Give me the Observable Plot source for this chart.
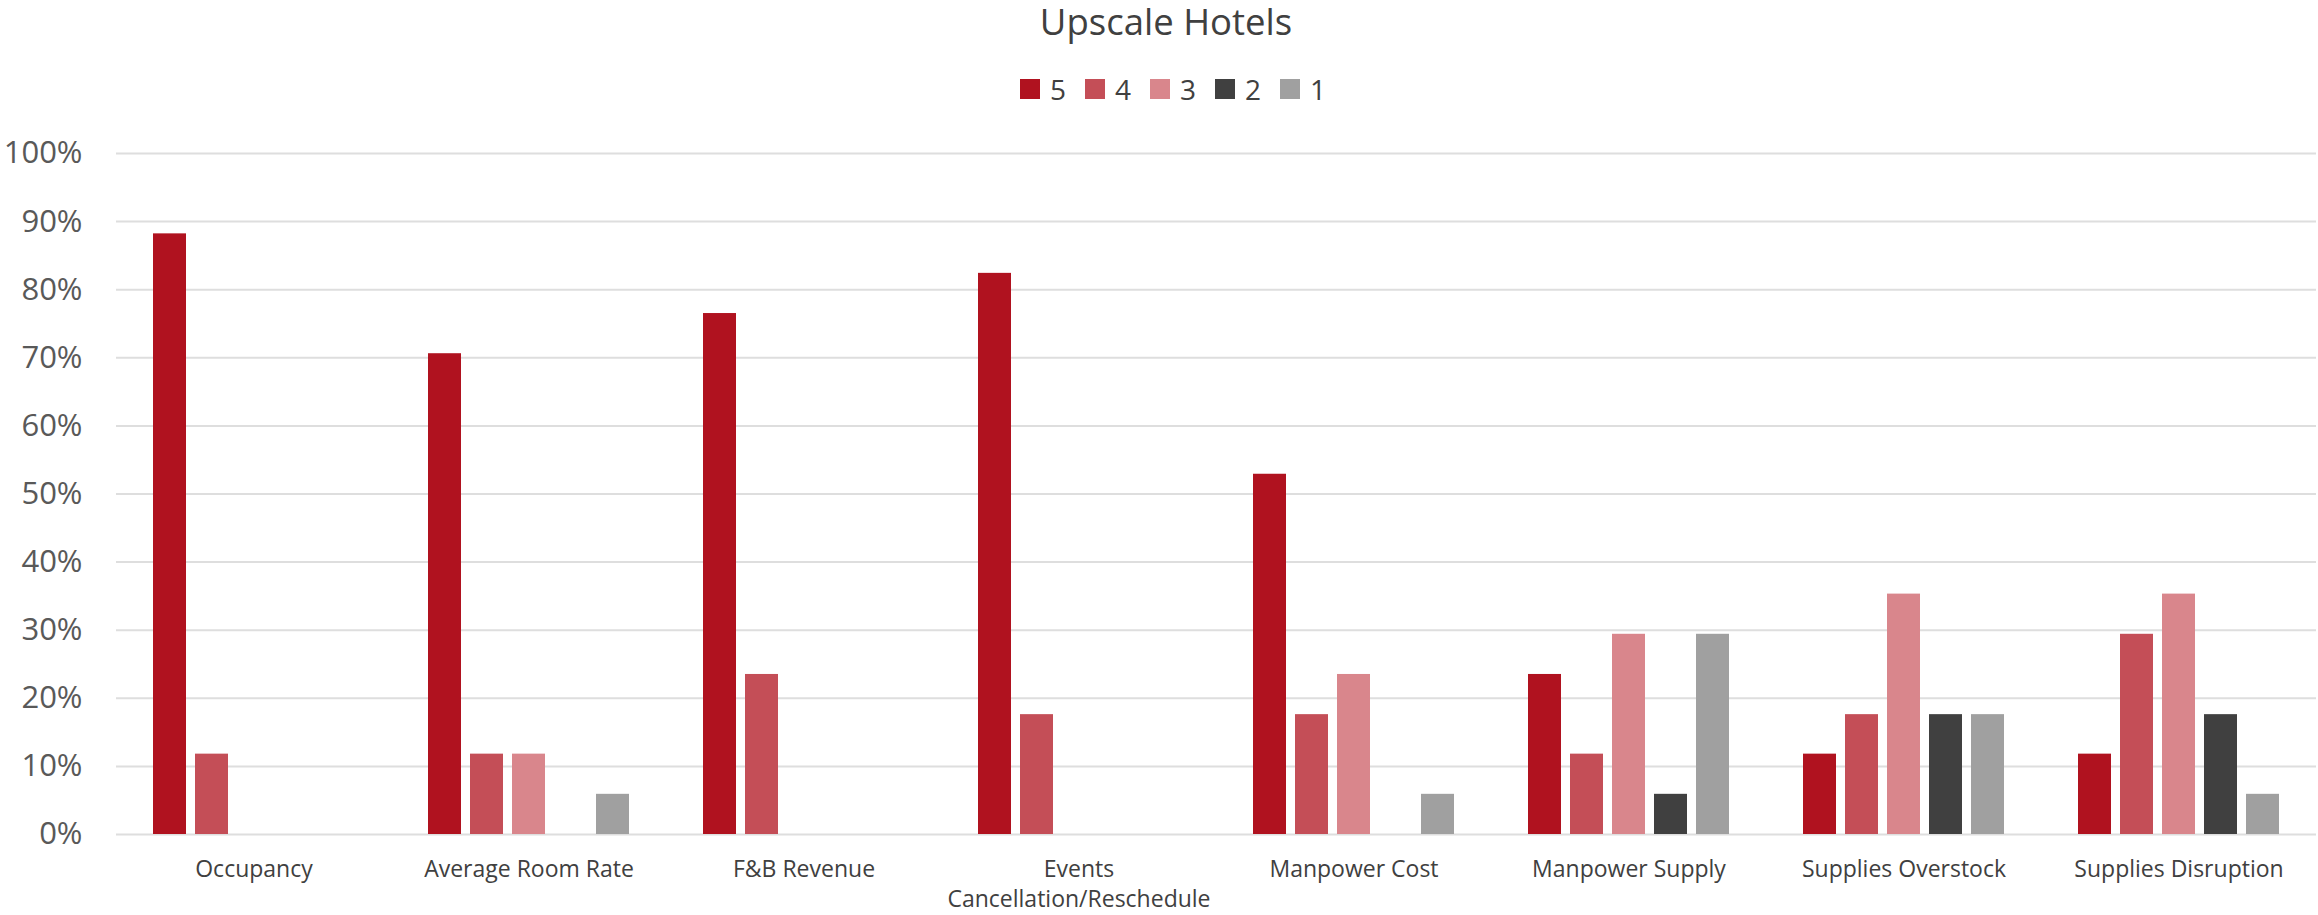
<!DOCTYPE html>
<html>
<head>
<meta charset="utf-8">
<script src="https://cdn.jsdelivr.net/npm/d3@7"></script>
<script src="https://cdn.jsdelivr.net/npm/@observablehq/plot@0.6"></script>
<style>
  html, body { margin: 0; padding: 0; background: #fff; }
  body { width: 2318px; height: 915px; overflow: hidden; font-family: "Open Sans", sans-serif; }
  #header { position: relative; width: 2318px; height: 120px; }
  #title { position: absolute; left: 1166px; top: 0px; transform: translateX(-50%); font-size: 36.5px; color: #404040; white-space: nowrap; line-height: 42px; }
  #legend { position: absolute; left: 1020px; top: 74px; display: flex; align-items: center; font-size: 28px; color: #404040; line-height: 30px; }
  .item { display: flex; align-items: center; margin-right: 19px; }
  .sw { width: 20px; height: 20px; margin-right: 10px; }
  #chart svg { display: block; }
</style>
</head>
<body>
<div id="header">
  <div id="title">Upscale Hotels</div>
  <div id="legend"></div>
</div>
<div id="chart"></div>
<script>
const categories = ["Occupancy", "Average Room Rate", "F&B Revenue", "Events Cancellation/Reschedule", "Manpower Cost", "Manpower Supply", "Supplies Overstock", "Supplies Disruption"];
const categoryLabels = ["Occupancy", "Average Room Rate", "F&B Revenue", "Events\nCancellation/Reschedule", "Manpower Cost", "Manpower Supply", "Supplies Overstock", "Supplies Disruption"];
const ratings = ["5", "4", "3", "2", "1"];
const rating5 = [88.2, 70.6, 76.5, 82.4, 52.9, 23.5, 11.8, 11.8];
const rating4 = [11.8, 11.8, 23.5, 17.6, 17.6, 11.8, 17.6, 29.4];
const rating3 = [0, 11.8, 0, 0, 23.5, 29.4, 35.3, 35.3];
const rating2 = [0, 0, 0, 0, 0, 5.9, 17.6, 17.6];
const rating1 = [0, 5.9, 0, 0, 5.9, 29.4, 17.6, 5.9];
const yTicks = [0, 10, 20, 30, 40, 50, 60, 70, 80, 90, 100];
const colors = ["#B0121F", "#C44E57", "#D9868C", "#404040", "#A0A0A0"];

const series = [rating5, rating4, rating3, rating2, rating1];
const data = [];
ratings.forEach((r, i) => {
  categories.forEach((c, j) => {
    data.push({category: c, rating: r, value: series[i][j]});
  });
});

// legend
const legend = document.getElementById("legend");
ratings.forEach((r, i) => {
  const it = document.createElement("div");
  it.className = "item";
  const sw = document.createElement("div");
  sw.className = "sw";
  sw.style.background = colors[i];
  const t = document.createElement("span");
  t.textContent = r;
  it.appendChild(sw);
  it.appendChild(t);
  legend.appendChild(it);
});

const labelOf = new Map(categories.map((c, i) => [c, categoryLabels[i]]));

const chart = Plot.plot({
  width: 2318,
  height: 795,
  marginLeft: 113,
  marginRight: 0,
  marginTop: 33,
  marginBottom: 81,
  style: {fontFamily: "Open Sans, sans-serif", color: "#404040", background: "#fff"},
  fx: {domain: categories, padding: 0, axis: null},
  x: {domain: ratings, paddingInner: 0.218, paddingOuter: 0.844, axis: null},
  y: {domain: [0, 100], axis: null},
  color: {domain: ratings, range: colors},
  marks: [
    Plot.gridY(yTicks, {stroke: "#dedede", strokeOpacity: 1, strokeWidth: 2}),
    Plot.barY(data.filter(d => d.value > 0), {fx: "category", x: "rating", y: "value", fill: "rating"}),
    Plot.axisY(yTicks, {tickSize: 0, tickPadding: 34, fontSize: 31, fill: "#595959", tickFormat: d => d + "%", label: null}),
    Plot.axisFx({anchor: "bottom", tickSize: 0, tickPadding: 22, fontSize: 23, lineHeight: 1.28, fill: "#404040", tickFormat: d => labelOf.get(d), label: null})
  ]
});
document.getElementById("chart").appendChild(chart);
</script>
</body>
</html>
